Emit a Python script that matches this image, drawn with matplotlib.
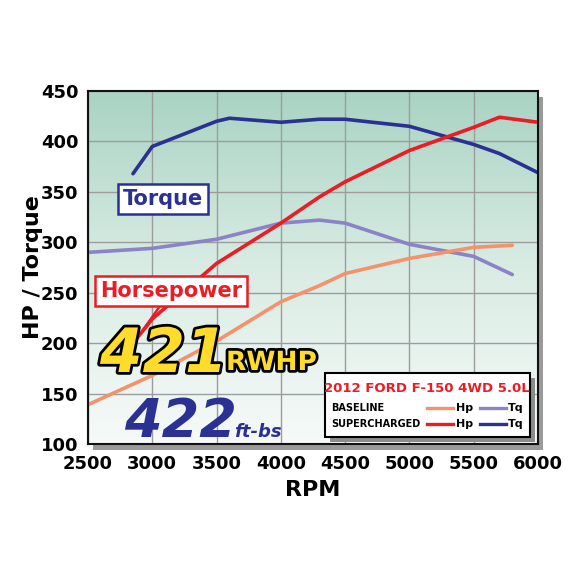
import numpy as np
import matplotlib
matplotlib.use('Agg')
import matplotlib.pyplot as plt
from matplotlib.patches import Rectangle
from matplotlib.colors import LinearSegmentedColormap
import matplotlib.patheffects as pe

plt.rcParams['font.family'] = ['DejaVu Sans']
plt.rcParams['font.weight'] = 'bold'

# data
rpm_base = [2500, 3000, 3500, 4000, 4300, 4500, 5000, 5500, 5800]
base_hp = [139, 168, 202, 241, 257, 269, 284, 295, 297]
base_tq = [290, 294, 303, 319, 322, 319, 298, 286, 268]

rpm_sc = [2850, 3000, 3500, 3600, 4000, 4300, 4500, 5000, 5500, 5700, 6000]
sc_hp = [200, 224, 279, 287, 319, 345, 360, 391, 414, 424, 419]
sc_tq = [368, 395, 420, 423, 419, 422, 422, 415, 397, 388, 369]

x_ticks = [2500, 3000, 3500, 4000, 4500, 5000, 5500, 6000]
y_ticks = [100, 150, 200, 250, 300, 350, 400, 450]

c_bhp = '#f5916b'
c_btq = '#8a83c6'
c_shp = '#ec1c24'
c_stq = '#2a3192'

W = 580.0
def fx(x):
    return x / W
def fy(y):
    return 1 - y / W

fig = plt.figure(figsize=(5.8, 5.8), dpi=100)
ax = fig.add_axes([fx(88), fy(444), 450 / W, 353 / W])
ax.set_zorder(2)

# drop shadow behind plot frame
fig.patches.append(Rectangle((fx(93), fy(450)), 450 / W, 353 / W, transform=fig.transFigure,
                             facecolor='#9a9a9a', edgecolor='none', zorder=-1))

# green-to-white gradient background
cmap = LinearSegmentedColormap.from_list('bg', ['#f6faf8', '#d9ece4', '#a9d3c3'])
grad = np.linspace(0, 1, 256).reshape(-1, 1)
ax.imshow(grad, cmap=cmap, aspect='auto', origin='lower',
          extent=[2500, 6000, 100, 450], zorder=0)

ax.set_xlim(2500, 6000)
ax.set_ylim(100, 450)
ax.set_xticks(x_ticks)
ax.set_yticks(y_ticks)
ax.grid(True, color='#9c9c9c', lw=1.0, zorder=1)
ax.tick_params(length=0, labelsize=13)
ax.tick_params(axis='x', pad=8)
ax.tick_params(axis='y', pad=7)
for lab in ax.get_xticklabels() + ax.get_yticklabels():
    lab.set_fontweight('bold')
for s in ax.spines.values():
    s.set_linewidth(1.5)
    s.set_color('#111111')
    s.set_zorder(6)

ax.plot(rpm_base, base_tq, color=c_btq, lw=2.6, zorder=3, solid_capstyle='round')
ax.plot(rpm_base, base_hp, color=c_bhp, lw=2.6, zorder=3, solid_capstyle='round')
ax.plot(rpm_sc, sc_tq, color=c_stq, lw=2.6, zorder=3, solid_capstyle='round')
ax.plot(rpm_sc, sc_hp, color=c_shp, lw=2.6, zorder=3, solid_capstyle='round')

ax.set_xlabel('RPM', fontsize=16, fontweight='bold')
ax.set_ylabel('HP / Torque', fontsize=16, fontweight='bold')
ax.xaxis.set_label_coords(0.5, (444 - 490) / 353.0)
ax.yaxis.set_label_coords((33 - 88) / 450.0, 0.5)
ax.xaxis.label.set_va('center')
ax.yaxis.label.set_va('center')

# callout boxes
fig.text(fx(163), fy(199), 'Torque', color=c_stq, fontsize=15, fontweight='bold',
         ha='center', va='center', zorder=10,
         bbox=dict(boxstyle='square,pad=0.25', fc='white', ec=c_stq, lw=1.8))
fig.text(fx(171), fy(291), 'Horsepower', color=c_shp, fontsize=15, fontweight='bold',
         ha='center', va='center', zorder=10,
         bbox=dict(boxstyle='square,pad=0.25', fc='white', ec=c_shp, lw=1.8))
fig.lines.append(plt.Line2D([fx(160), fx(143)], [fy(306), fy(330)], color=c_shp, lw=1.8,
                            transform=fig.transFigure, zorder=9))

outline = [pe.withStroke(linewidth=4, foreground='black')]
fig.text(fx(100), fy(372), '421', color='#ffdc2a', fontsize=44, fontweight='bold',
         fontstyle='italic', ha='left', va='baseline', path_effects=outline, zorder=11)
fig.text(fx(226), fy(370), 'RWHP', color='#ffdc2a', fontsize=19, fontweight='bold',
         ha='left', va='baseline', path_effects=outline, zorder=11)
fig.text(fx(124), fy(437), '422', color=c_stq, fontsize=39, fontweight='bold',
         fontstyle='italic', ha='left', va='baseline', zorder=11)
fig.text(fx(234), fy(437), 'ft-bs', color=c_stq, fontsize=13, fontweight='bold',
         fontstyle='italic', ha='left', va='baseline', zorder=11)

# legend panel
fig.patches.append(Rectangle((fx(330), fy(442)), 205 / W, 64 / W, transform=fig.transFigure,
                             facecolor='#8c8c8c', edgecolor='none', zorder=12))
fig.patches.append(Rectangle((fx(325), fy(437)), 205 / W, 64 / W, transform=fig.transFigure,
                             facecolor='white', edgecolor='black', lw=1.5, zorder=13))
fig.text(fx(427), fy(388), '2012 FORD F-150 4WD 5.0L', color=c_shp, fontsize=9.5,
         fontweight='bold', ha='center', va='center', zorder=14)
rows = [('BASELINE', 408, c_bhp, c_btq), ('SUPERCHARGED', 424, c_shp, c_stq)]
for name, yy, chp, ctq in rows:
    fig.text(fx(331), fy(yy), name, fontsize=7, fontweight='bold', ha='left', va='center', zorder=14)
    fig.lines.append(plt.Line2D([fx(427), fx(453)], [fy(yy), fy(yy)], color=chp, lw=2.4,
                                transform=fig.transFigure, zorder=14))
    fig.text(fx(456), fy(yy), 'Hp', fontsize=8, fontweight='bold', ha='left', va='center', zorder=14)
    fig.lines.append(plt.Line2D([fx(480), fx(506)], [fy(yy), fy(yy)], color=ctq, lw=2.4,
                                transform=fig.transFigure, zorder=14))
    fig.text(fx(508), fy(yy), 'Tq', fontsize=8, fontweight='bold', ha='left', va='center', zorder=14)

fig.savefig('out.png', dpi=100)
